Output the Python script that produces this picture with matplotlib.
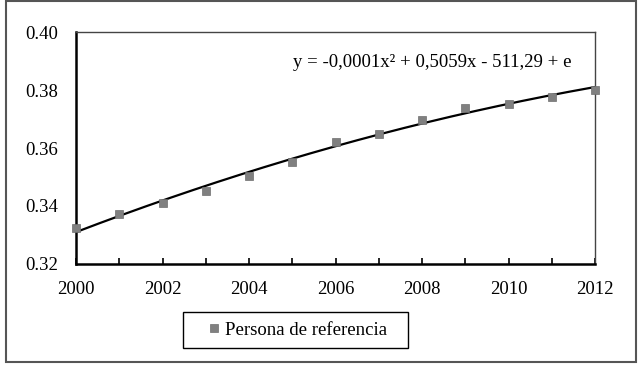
import numpy as np
import matplotlib.pyplot as plt
from matplotlib.patches import Rectangle

plt.rcParams['font.family'] = ['Liberation Serif', 'DejaVu Serif']

# Data
years = [2000, 2001, 2002, 2003, 2004, 2005, 2006, 2007, 2008, 2009, 2010, 2011, 2012]
values = [0.3324, 0.3372, 0.3411, 0.3452, 0.3503, 0.3552, 0.3621, 0.3648, 0.3697,
          0.3739, 0.3751, 0.3777, 0.3800]
series_label = 'Persona de referencia'
equation = 'y = -0,0001x\u00b2 + 0,5059x - 511,29 + e'

fig = plt.figure(figsize=(6.42, 3.65), dpi=100)
# plot area in pixels: left 76, right 595, top 32, bottom 264
ax = fig.add_axes([76 / 642, 1 - 264 / 365, (595 - 76) / 642, (264 - 32) / 365])

# quadratic trend line (like the spreadsheet one)
coef = np.polyfit(np.array(years) - 2000, values, 2)
xs = np.linspace(years[0], years[-1], 200)
ax.plot(xs, np.polyval(coef, xs - 2000), color='black', lw=1.6, zorder=2)

ax.plot(years, values, linestyle='none', marker='s', ms=6.3, color='#808080',
        mec='#6e6e6e', mew=0.5, clip_on=False, zorder=3, label=series_label)

ax.set_xlim(2000, 2012)
ax.set_ylim(0.32, 0.40)
ax.set_xticks(range(2000, 2013, 2))
ax.set_xticks(range(2000, 2013), minor=True)
ax.set_yticks([0.32, 0.34, 0.36, 0.38, 0.40])
ax.set_yticklabels(['0.32', '0.34', '0.36', '0.38', '0.40'])
ax.tick_params(axis='x', which='both', direction='in', length=4, width=1.2,
               labelsize=13.5, pad=12)
ax.tick_params(axis='y', length=0, labelsize=13.5, pad=13)

for s in ['left', 'bottom']:
    ax.spines[s].set_linewidth(1.8)
    ax.spines[s].set_color('black')
for s in ['top', 'right']:
    ax.spines[s].set_linewidth(1.0)
    ax.spines[s].set_color('#444444')

ax.text(0.955, 0.87, equation, transform=ax.transAxes, ha='right', va='center',
        fontsize=13.5)

# legend: frameless, with its own box drawn around it
fig.legend(loc='center left', bbox_to_anchor=(208 / 642, 1 - 330 / 365),
           fontsize=13.5, frameon=False, handlelength=0.6, handletextpad=0.3,
           borderpad=0, borderaxespad=0)
fig.patches.append(Rectangle((183 / 642, 1 - 348 / 365), 225 / 642, 36 / 365,
                             transform=fig.transFigure, fill=False,
                             edgecolor='black', lw=1.0))

# outer chart border
fig.patches.append(Rectangle((6 / 642, 3 / 365), 630 / 642, 361 / 365,
                             transform=fig.transFigure, fill=False,
                             edgecolor='#555555', lw=1.5))

fig.savefig('out.png', dpi=100)
